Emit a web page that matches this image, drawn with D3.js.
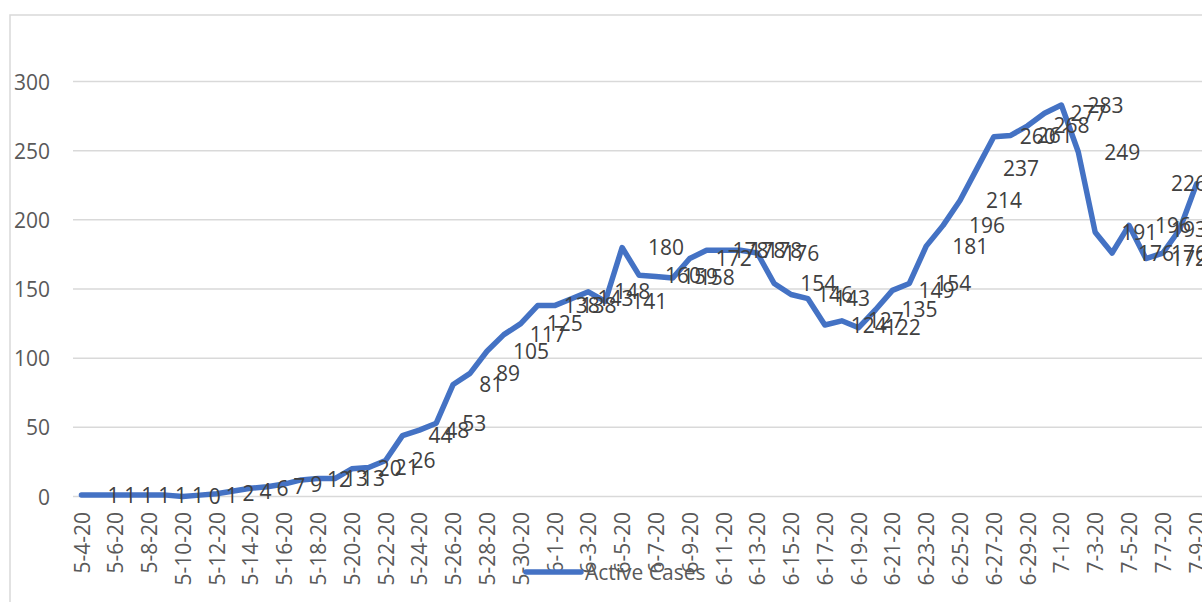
<!DOCTYPE html>
<html>
<head>
<meta charset="utf-8">
<script src="https://cdn.jsdelivr.net/npm/d3@7"></script>
<style>
  html, body { margin: 0; padding: 0; background: #ffffff; overflow: hidden; }
  svg { display: block; }
  text { font-family: "Open Sans", "Liberation Sans", sans-serif; }
</style>
</head>
<body>
<svg id="chart" width="1202" height="602"></svg>
<script>
const categories = [
  "5-4-20","5-5-20","5-6-20","5-7-20","5-8-20","5-9-20","5-10-20","5-11-20","5-12-20","5-13-20",
  "5-14-20","5-15-20","5-16-20","5-17-20","5-18-20","5-19-20","5-20-20","5-21-20","5-22-20","5-23-20",
  "5-24-20","5-25-20","5-26-20","5-27-20","5-28-20","5-29-20","5-30-20","5-31-20",
  "6-1-20","6-2-20","6-3-20","6-4-20","6-5-20","6-6-20","6-7-20","6-8-20","6-9-20","6-10-20",
  "6-11-20","6-12-20","6-13-20","6-14-20","6-15-20","6-16-20","6-17-20","6-18-20","6-19-20","6-20-20",
  "6-21-20","6-22-20","6-23-20","6-24-20","6-25-20","6-26-20","6-27-20","6-28-20","6-29-20","6-30-20",
  "7-1-20","7-2-20","7-3-20","7-4-20","7-5-20","7-6-20","7-7-20","7-8-20","7-9-20"
];
const activeCases = [
  1,1,1,1,1,1,0,1,2,4,
  6,7,9,12,13,13,20,21,26,44,
  48,53,81,89,105,117,125,138,
  138,143,148,141,180,160,159,158,172,178,
  178,178,176,154,146,143,124,127,122,135,
  149,154,181,196,214,237,260,261,268,277,
  283,249,191,176,196,172,176,193,226
];
const yTicks = [0, 50, 100, 150, 200, 250, 300];
const seriesName = "Active Cases";

const svg = d3.select("#chart");
const W = 1202, H = 602;
const plot = { left: 73, right: 1205, top: 15, bottom: 496.5 };
const FS = 21;

// chart border
svg.append("rect")
  .attr("x", 10).attr("y", 15).attr("width", 1240).attr("height", 640)
  .attr("fill", "none").attr("stroke", "#d9d9d9").attr("stroke-width", 1.5);

const x = d3.scalePoint().domain(categories).range([plot.left, plot.right]).padding(0.5);
const y = d3.scaleLinear().domain([0, 300]).range([496.5, 81.5]);

// gridlines
svg.append("g").selectAll("line").data(yTicks).join("line")
  .attr("x1", plot.left).attr("x2", W + 10)
  .attr("y1", d => y(d)).attr("y2", d => y(d))
  .attr("stroke", "#d9d9d9").attr("stroke-width", 1.5);

// y axis labels
const yAxis = d3.axisLeft(y).tickValues(yTicks).tickSize(0).tickPadding(0);
const yg = svg.append("g").attr("transform", "translate(50,0)").call(yAxis);
yg.select(".domain").remove();
yg.selectAll("text").attr("font-size", FS).attr("fill", "#595959")
  .attr("font-family", "Open Sans").attr("dy", "0.36em");

// x axis labels (every other category)
const xTickVals = categories.filter((d, i) => i % 2 === 0);
const xAxis = d3.axisBottom(x).tickValues(xTickVals).tickSize(0).tickPadding(0);
const xg = svg.append("g").attr("transform", "translate(0,512)").call(xAxis);
xg.select(".domain").remove();
xg.selectAll("text")
  .attr("font-size", FS).attr("fill", "#595959").attr("font-family", "Open Sans")
  .attr("text-anchor", "end")
  .attr("transform", "rotate(-90)")
  .attr("x", 0).attr("y", 0).attr("dy", "0.36em");

// line
const line = d3.line().x((d, i) => x(categories[i])).y(d => y(d));
svg.append("path").datum(activeCases)
  .attr("d", line).attr("fill", "none")
  .attr("stroke", "#4472c4").attr("stroke-width", 5.5)
  .attr("stroke-linejoin", "round").attr("stroke-linecap", "round");

// data labels
const labels = svg.append("g").selectAll("text").data(activeCases).join("text")
  .attr("font-size", FS).attr("fill", "#404040").attr("font-family", "Open Sans")
  .attr("y", d => y(d)).attr("dy", "0.36em")
  .text(d => d);
labels.each(function(d, i) {
  const w = this.getComputedTextLength();
  const px = x(categories[i]) + 26;
  d3.select(this).attr("x", Math.min(px, 1207 - w));
});

// legend
const lg = svg.append("g");
lg.append("line").attr("x1", 526).attr("x2", 581).attr("y1", 572).attr("y2", 572)
  .attr("stroke", "#4472c4").attr("stroke-width", 5.5).attr("stroke-linecap", "round");
lg.append("text").attr("x", 585).attr("y", 572).attr("dy", "0.36em")
  .attr("font-size", FS).attr("fill", "#595959").text(seriesName);
</script>
</body>
</html>
